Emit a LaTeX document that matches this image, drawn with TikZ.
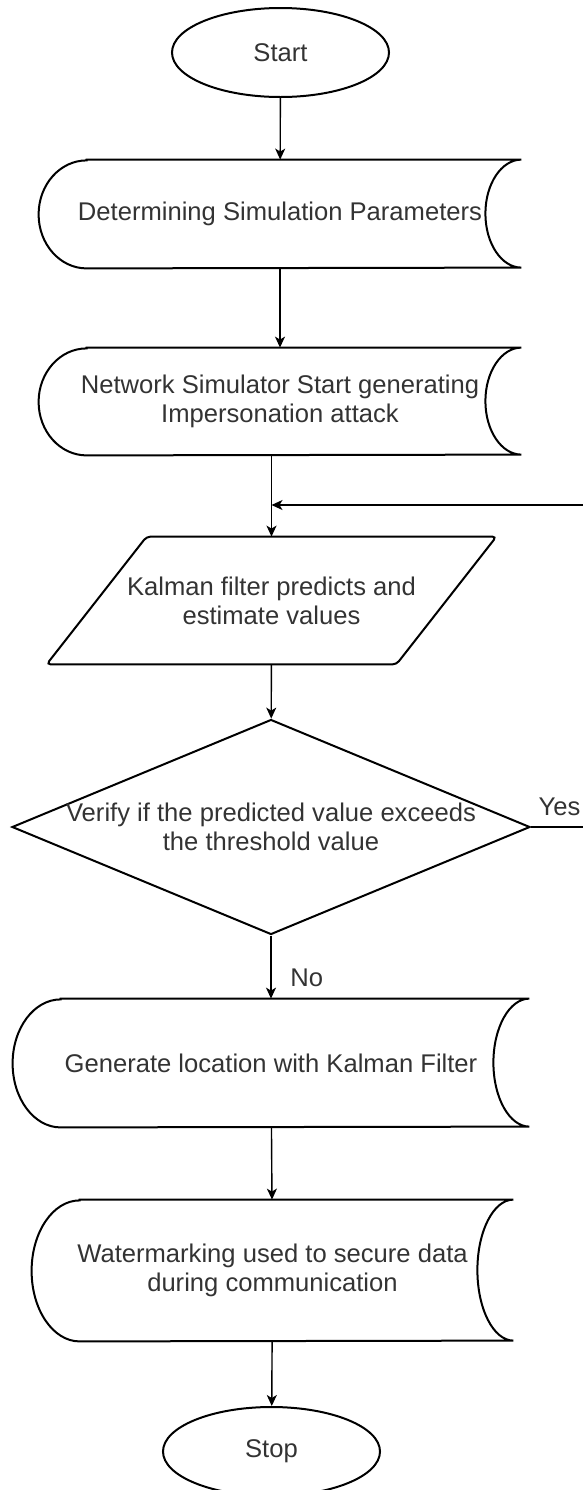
\documentclass[tikz,border=0pt]{standalone}
\usepackage{fontspec}
\setmainfont{Liberation Sans}
\usetikzlibrary{shapes.geometric,arrows.meta}

\tikzset{
  txt/.style={font=\fontsize{12.8}{14.5}\selectfont, text=black!80, align=center},
  border/.style={line width=1pt},
  term/.style={txt, ellipse, draw, border, minimum width=108.5pt, minimum height=44.5pt, inner sep=0pt},
  store/.style={txt, rectangle, inner sep=0pt},
  io/.style={txt, rectangle, inner sep=0pt, minimum width=174.5pt, minimum height=63.5pt},
  decision/.style={diamond, draw, border, inner sep=0pt, minimum width=259pt, minimum height=107.5pt},
  flow/.style={line width=0.7pt, -{Stealth[length=5.5pt,width=5pt,inset=1.5pt]}}
}

\newcommand{\storedata}[2]{%
  \draw[border] ([xshift=24pt]#1.north west) -- (#1.north east)
    arc[start angle=90, end angle=270, x radius=18pt, y radius=#2]
    -- ([xshift=24pt]#1.south west)
    arc[start angle=270, end angle=90, x radius=24pt, y radius=#2] -- cycle;}

\begin{document}
\begin{tikzpicture}[x=0.5pt, y=0.5pt]
  \path[use as bounding box, clip] (0,0) rectangle (583,-1490);
  \node[term] (start) at (280.5,-52.5) {Start};
  \node[store, minimum width=241pt, minimum height=54pt] (param) at (280,-214) {Determining Simulation Parameters};
  \node[store, minimum width=241pt, minimum height=53.5pt] (attack) at (280,-401.5) {Network Simulator Start generating\\Impersonation attack};
  \node[io] (kalman) at (271.5,-600.5) {Kalman filter predicts and\\estimate values};
  \node[decision, label={[txt]center:Verify if the predicted value exceeds\\the threshold value}] (check) at (271,-827) {};
  \node[store, minimum width=258pt, minimum height=64pt] (locate) at (271,-1063) {Generate location with Kalman Filter};
  \node[store, minimum width=240.5pt, minimum height=70.5pt] (mark) at (272.5,-1270.5) {Watermarking used to secure data\\during communication};
  \node[term] (stop) at (271.5,-1451.5) {Stop};

  \storedata{param}{27pt}
  \storedata{attack}{26.75pt}
  \storedata{locate}{32pt}
  \storedata{mark}{35.25pt}
  \draw[border, rounded corners=2pt] ([xshift=25pt]kalman.north west) -- ([xshift=25pt]kalman.north east)
    -- ([xshift=-25pt]kalman.south east) -- ([xshift=-25pt]kalman.south west) -- cycle;

  \coordinate (join) at (271.5,-505);
  \coordinate (loop) at (620,-505);
  \draw[flow] (start) -- (param);
  \draw[flow] (param) -- (attack);
  \draw[flow] (attack.south -| kalman.north) -- (kalman);
  \draw[flow] (kalman) -- (check);
  \draw[flow] (check) -- node[txt, pos=0.67, right=6pt] (no) {No} (locate);
  \draw[flow] (locate) -- (mark);
  \draw[flow] (mark) -- (stop);
  \draw[flow] (check.east) -- node[txt, pos=0.32, above=2pt] (yes) {Yes} (check.east -| loop) -- (loop) -- (join);
\end{tikzpicture}
\end{document}
